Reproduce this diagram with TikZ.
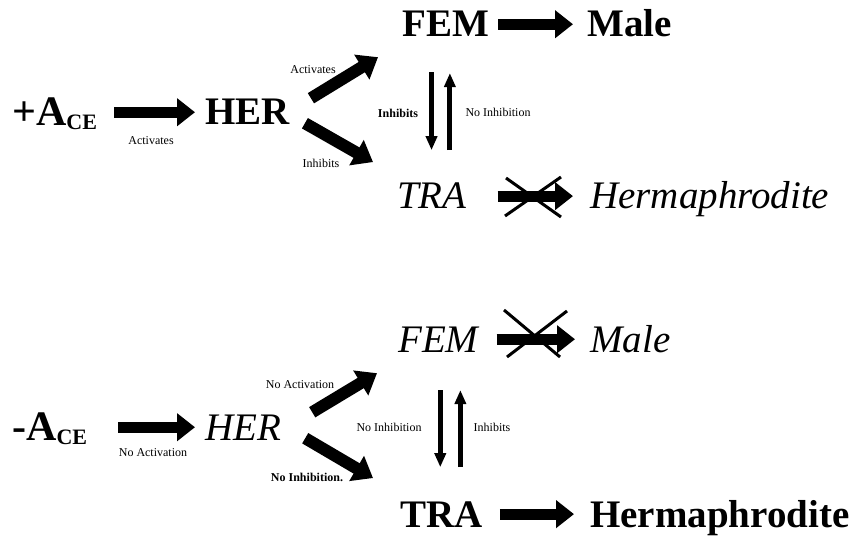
\documentclass[tikz,border=0pt]{standalone}
\usepackage{fontspec}
\setmainfont{Liberation Serif}
\usetikzlibrary{arrows.meta}

\tikzset{
  fatarrow/.style={line width=11pt, -{Triangle[length=18pt,width=27pt]}},
  slantarrow/.style={line width=12pt, -{Triangle[length=19pt,width=28pt]}},
  thinarrow/.style={line width=5pt, -{Triangle[length=14pt,width=11pt]}},
  crossout/.style={line width=3pt},
  genebf/.style={anchor=base west, inner sep=0pt, font=\fontsize{39}{39}\selectfont\bfseries},
  geneit/.style={anchor=base west, inner sep=0pt, font=\fontsize{39}{39}\selectfont\itshape},
  signal/.style={anchor=base west, inner sep=0pt, font=\fontsize{42}{42}\selectfont\bfseries},
  tag/.style={inner sep=0pt, font=\fontsize{12}{12}\selectfont},
  tagbf/.style={tag, font=\fontsize{12}{12}\selectfont\bfseries},
}

\begin{document}
\begin{tikzpicture}[x=1pt, y=-1pt]
    \useasboundingbox (0,0) rectangle (861,537);

    % With A_CE
    \node[signal] (ace1) at (12,126) {+A\raisebox{-4pt}{\fontsize{22}{22}\selectfont CE}};
    \node[genebf] (her1) at (205,125) {HER};
    \node[genebf] (fem1) at (402,37) {FEM};
    \node[genebf] (male1) at (587,37) {Male};
    \node[geneit] (tra1) at (397,209) {TRA};
    \node[geneit] (herm1) at (590,209) {Hermaphrodite};

    \draw[fatarrow, shorten <=17pt, shorten >=10pt] (her1.west -| ace1.east) -- (her1.west);
    \draw[fatarrow, shorten <=9pt, shorten >=14pt] (fem1.east) -- (fem1.east -| male1.west);
    \draw[fatarrow, shorten <=31pt, shorten >=17pt] (tra1.east) -- (tra1.east -| herm1.west);
    \draw[slantarrow] ([shift={(21,-14)}]her1.east) -- ([shift={(-24,20)}]fem1.south west);
    \draw[slantarrow] ([shift={(15,11)}]her1.east) -- ([shift={(-24,-21)}]tra1.north west);
    \draw[thinarrow] ([shift={(-14,35)}]fem1.south) -- ++(0,78);
    \draw[thinarrow] ([shift={(18,-33)}]tra1.north) -- ++(0,-77);

    % Blocked step
    \draw[crossout] (506,178) -- (561,217);
    \draw[crossout] (505,216) -- (561,177);

    % Labels
    \node[tag] (act1) at (151,141) {Activates};
    \node[tag] (act1b) at (313,70) {Activates};
    \node[tag] (inh1b) at (321,163) {Inhibits};
    \node[tagbf] (inh1) at (398,113) {Inhibits};
    \node[tag] (noinh1) at (498,112) {No Inhibition};

    % Without A_CE
    \node[signal] (ace2) at (12,440) {-A\raisebox{-4pt}{\fontsize{22}{22}\selectfont CE}};
    \node[genebf, font=\fontsize{39}{39}\selectfont\itshape] (her2) at (205,440) {HER};
    \node[geneit] (fem2) at (398,352) {FEM};
    \node[geneit] (male2) at (590,352) {Male};
    \node[genebf] (tra2) at (400,527) {TRA};
    \node[genebf] (herm2) at (590,527) {Hermaphrodite};

    \draw[fatarrow, shorten <=31pt, shorten >=10pt] (her2.west -| ace2.east) -- (her2.west);
    \draw[fatarrow, shorten <=18pt, shorten >=15pt] (fem2.east) -- (fem2.east -| male2.west);
    \draw[fatarrow, shorten <=17pt, shorten >=16pt] (tra2.east) -- (tra2.east -| herm2.west);
    \draw[slantarrow] ([shift={(31,-15)}]her2.east) -- ([shift={(-21,21)}]fem2.south west);
    \draw[slantarrow] ([shift={(24,11)}]her2.east) -- ([shift={(-27,-23)}]tra2.north west);
    \draw[thinarrow] ([shift={(2,38)}]fem2.south) -- ++(0,77);
    \draw[thinarrow] ([shift={(19,-34)}]tra2.north) -- ++(0,-77);

    % Blocked step
    \draw[crossout] (504,310) -- (560,357);
    \draw[crossout] (507,357) -- (567,311);

    % Labels
    \node[tag] (noact2) at (153,453) {No Activation};
    \node[tag] (noact2b) at (300,385) {No Activation};
    \node[tagbf] (noinh2b) at (307,477) {No Inhibition.};
    \node[tag] (noinh2) at (389,427) {No Inhibition};
    \node[tag] (inh2) at (492,427) {Inhibits};
\end{tikzpicture}
\end{document}
